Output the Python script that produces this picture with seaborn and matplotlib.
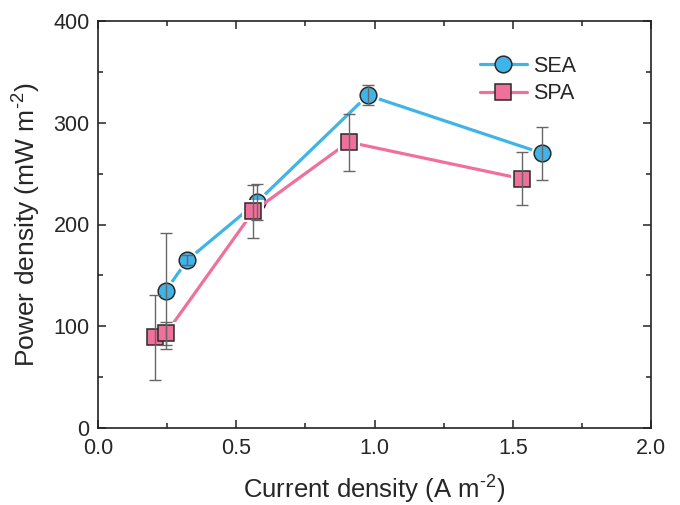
import matplotlib
matplotlib.use("Agg")
import matplotlib.pyplot as plt
import seaborn as sns
import pandas as pd
from matplotlib.lines import Line2D
from matplotlib.ticker import MultipleLocator

# Power density vs current density for the two configurations
sea_x = [0.245, 0.323, 0.575, 0.976, 1.607]
sea_y = [135, 165, 222, 327, 270]
sea_err = [57, 5, 18, 10, 26]

spa_x = [0.207, 0.246, 0.562, 0.906, 1.532]
spa_y = [89, 93, 213, 281, 245]
spa_err = [42, 11, 26, 28, 26]

series_names = ["SEA", "SPA"]
x_ticks = [0.0, 0.5, 1.0, 1.5, 2.0]
y_ticks = [0, 100, 200, 300, 400]

sns.set_theme(style="ticks")
plt.rcParams["font.family"] = ["Liberation Sans", "DejaVu Sans"]
plt.rcParams["mathtext.fontset"] = "custom"
plt.rcParams["mathtext.rm"] = "Liberation Sans"
plt.rcParams["mathtext.sf"] = "Liberation Sans"

blue = "#3fb4e8"
pink = "#f0709c"
edge = "#2a2a2a"
ebar = "#666666"

df = pd.concat([
    pd.DataFrame({"x": sea_x, "y": sea_y, "err": sea_err, "series": series_names[0]}),
    pd.DataFrame({"x": spa_x, "y": spa_y, "err": spa_err, "series": series_names[1]}),
], ignore_index=True)

fig = plt.figure(figsize=(6.8, 5.05), dpi=100)
ax = fig.add_axes([98 / 680, 1 - 428 / 505, 553 / 680, 407 / 505])

# colour, marker, marker size, base zorder
styles = {"SEA": (blue, "o", 12, 2), "SPA": (pink, "s", 11.5, 3)}
for name in series_names:
    color, marker, ms, z = styles[name]
    sub = df[df["series"] == name]
    sns.lineplot(data=sub, x="x", y="y", sort=False, color=color, lw=2.3,
                 ax=ax, zorder=z, legend=False)
    # white rim leaves a small gap between the line and each symbol
    ax.plot(sub["x"], sub["y"], ls="none", marker=marker, ms=ms + 4,
            mfc="white", mec="white", mew=0, zorder=z + 0.1)
    ax.plot(sub["x"], sub["y"], ls="none", marker=marker, ms=ms,
            mfc=color, mec=edge, mew=1.1, zorder=z + 0.2)
    ax.errorbar(sub["x"], sub["y"], yerr=sub["err"], fmt="none", ecolor=ebar,
                elinewidth=1.0, capsize=4.5, capthick=1.0, zorder=6)

ax.set_xlim(0, 2.0)
ax.set_ylim(0, 400)
ax.set_xticks(x_ticks)
ax.set_yticks(y_ticks)
ax.set_xticklabels([f"{v:.1f}" for v in x_ticks])
ax.set_yticklabels([str(v) for v in y_ticks])
ax.xaxis.set_minor_locator(MultipleLocator(0.25))
ax.yaxis.set_minor_locator(MultipleLocator(50))
ax.tick_params(which="both", direction="in", top=True, right=True, width=1.1,
               color="#222222", labelsize=15.5, pad=6)
ax.tick_params(axis="x", which="major", pad=7.5)
ax.tick_params(which="major", length=6)
ax.tick_params(which="minor", length=3.5)
for sp in ax.spines.values():
    sp.set_linewidth(1.2)
    sp.set_color("#222222")

ax.set_xlabel(r"Current density (A m$^{\text{-2}}$)", fontsize=18.5, labelpad=9)
ax.set_ylabel(r"Power density (mW m$^{\text{-2}}$)", fontsize=19, labelpad=8)

handles = [
    Line2D([], [], color=blue, lw=2.3, marker="o", ms=12, mfc=blue, mec=edge, mew=1.1),
    Line2D([], [], color=pink, lw=2.3, marker="s", ms=11.5, mfc=pink, mec=edge, mew=1.1),
]
ax.legend(handles, series_names, loc="upper left", bbox_to_anchor=(0.69, 0.915),
          frameon=False, fontsize=15.5, handlelength=2.2, handletextpad=0.3,
          labelspacing=0.3, borderpad=0, borderaxespad=0)

fig.savefig("out.png", dpi=100)
